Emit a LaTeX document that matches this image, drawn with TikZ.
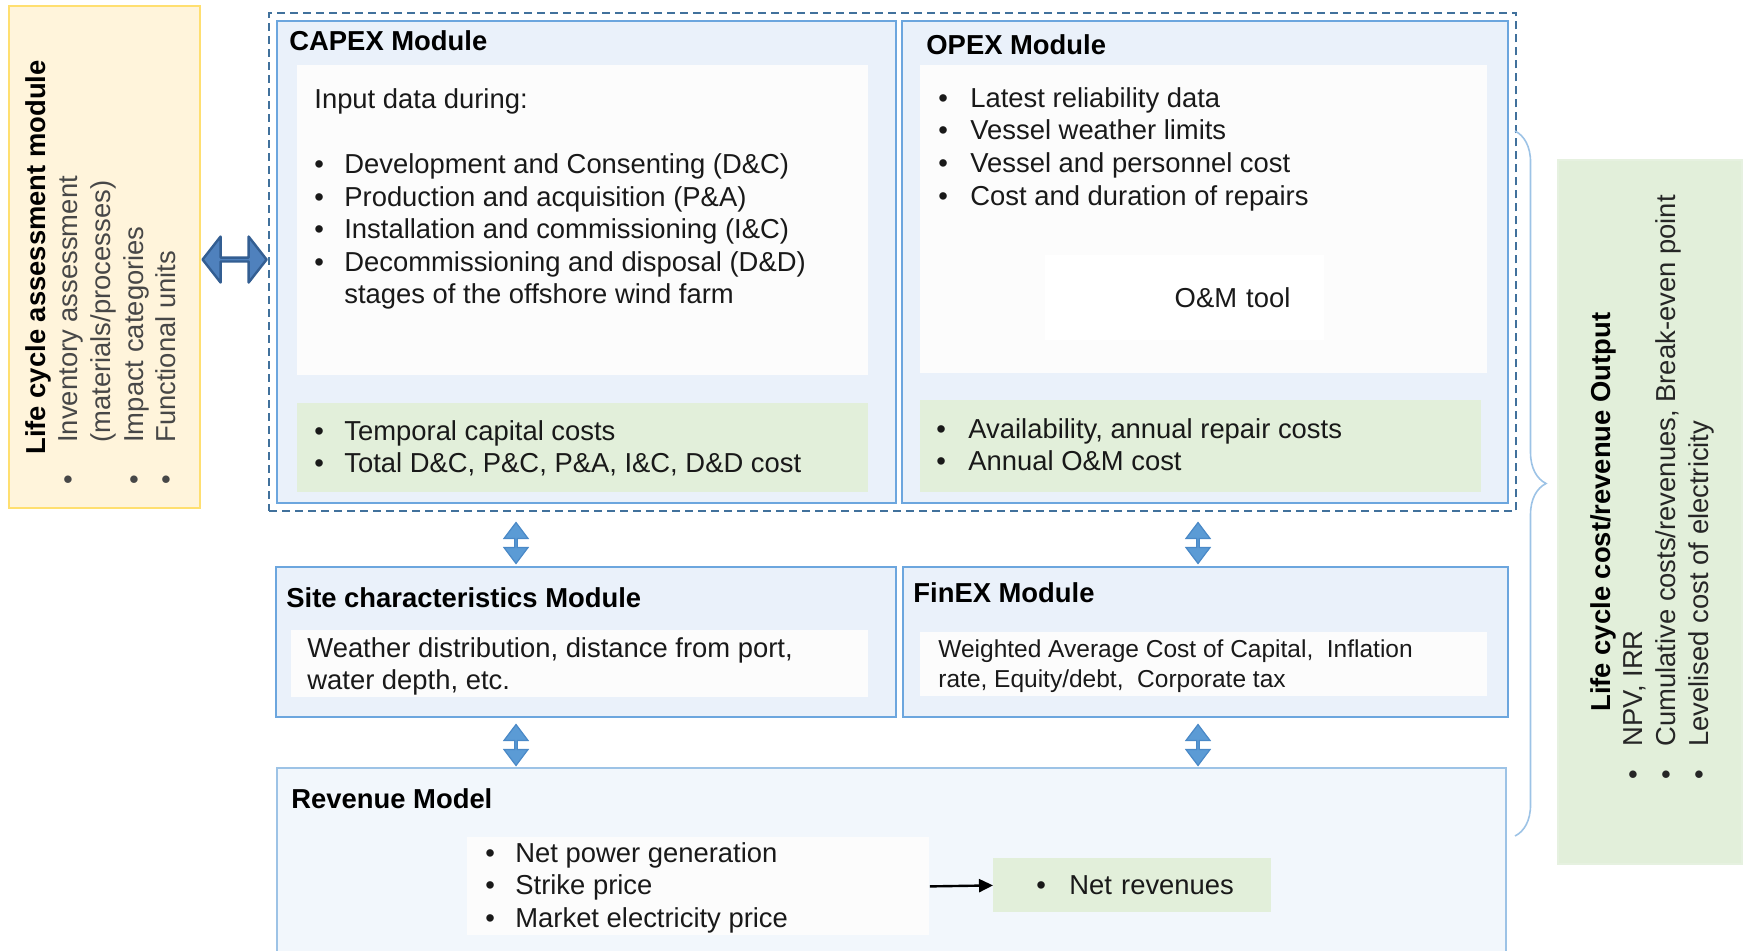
\documentclass[tikz,border=0pt]{standalone}
\usepackage{fontspec}
\setmainfont{Liberation Sans}
\usepackage{tikz}
\usetikzlibrary{positioning,fit,calc,shapes.arrows,decorations.pathreplacing,arrows.meta}

\definecolor{modfill}{HTML}{EAF1FA}
\definecolor{modborder}{HTML}{6CA6DE}
\definecolor{framecol}{HTML}{41719C}
\definecolor{whitebox}{HTML}{FCFCFC}
\definecolor{greenbox}{HTML}{E2EFDA}
\definecolor{revfill}{HTML}{F2F7FC}
\definecolor{revborder}{HTML}{9DC3E6}
\definecolor{lcafill}{HTML}{FFF4DB}
\definecolor{lcaborder}{HTML}{FFDF70}
\definecolor{arrowfill}{HTML}{5B9BD5}
\definecolor{arrowdraw}{HTML}{4A89C7}
\definecolor{bigfill}{HTML}{4F81BD}
\definecolor{bigdraw}{HTML}{335E92}

\newcommand{\bitem}[2][15pt]{\makebox[#1][l]{\textbullet}#2}

\begin{document}
\begin{tikzpicture}[
    x=0.5pt, y=-0.5pt,
    font=\fontsize{13.7}{16.3}\selectfont,
    module/.style={rectangle, draw=modborder, line width=1.1pt, fill=modfill, anchor=north west, inner sep=0pt},
    inbox/.style={rectangle, fill=whitebox, anchor=north west, inner sep=0pt},
    outbox/.style={rectangle, fill=greenbox, anchor=north west, inner sep=0pt},
    modtitle/.style={anchor=base west, inner sep=0pt, font=\fontsize{13.7}{16.3}\selectfont\bfseries},
    txt/.style={anchor=north west, inner sep=0pt, align=left, text=black!90},
    vlink/.style={double arrow, rotate=90, fill=arrowfill, draw=arrowdraw, line width=0.6pt,
        minimum height=20.5pt, minimum width=12pt, double arrow head extend=2.5pt,
        double arrow tip angle=74, inner sep=0pt},
    hlink/.style={double arrow, fill=bigfill, draw=bigdraw, line width=1.2pt, line join=round,
        minimum height=32pt, minimum width=23pt, double arrow head extend=6.5pt,
        double arrow tip angle=104, inner sep=0pt}
]
    \useasboundingbox (0,0) rectangle (1744,951);

    % Life cycle assessment
    \node[rectangle, draw=lcaborder, line width=1pt, fill=lcafill, anchor=north west,
          minimum width=95.5pt, minimum height=251pt] (lca) at (8,5) {};
    \node[txt, rotate=90, text=black!72] (lcatext) at (25,485)
        {\hspace*{15pt}\textcolor{black}{\textbf{Life cycle assessment module}}\\
         \bitem[21pt]{Inventory assessment}\\
         \hspace*{21pt}(materials/processes)\\
         \bitem[21pt]{Impact categories}\\
         \bitem[21pt]{Functional units}};

    % CAPEX
    \node[module, minimum width=309.5pt, minimum height=241pt] (capex) at (276,20) {};
    \node[modtitle] (capextitle) at (289,51) {CAPEX Module};
    \node[inbox, minimum width=285.5pt, minimum height=155pt] (capexin) at (297,65) {};
    \node[txt] (capexlist) at (314,88)
        {Input data during:\\[16.3pt]
         \bitem{Development and Consenting (D\&C)}\\
         \bitem{Production and acquisition (P\&A)}\\
         \bitem{Installation and commissioning (I\&C)}\\
         \bitem{Decommissioning and disposal (D\&D)}\\
         \hspace*{15pt}stages of the offshore wind farm};
    \node[outbox, minimum width=285.5pt, minimum height=44.5pt] (capexout) at (297,403) {};
    \node[txt] (capexres) at (314,420)
        {\bitem{Temporal capital costs}\\
         \bitem{Total D\&C, P\&C, P\&A, I\&C, D\&D cost}};

    % OPEX
    \node[module, minimum width=303pt, minimum height=241pt] (opex) at (901,20) {};
    \node[modtitle] (opextitle) at (926,55) {OPEX Module};
    \node[inbox, minimum width=283.5pt, minimum height=154pt] (opexin) at (920,65) {};
    \node[txt] (opexlist) at (938,87)
        {\bitem[16pt]{Latest reliability data}\\
         \bitem[16pt]{Vessel weather limits}\\
         \bitem[16pt]{Vessel and personnel cost}\\
         \bitem[16pt]{Cost and duration of repairs}};
    \node[rectangle, fill=white, anchor=north west, minimum width=139.5pt, minimum height=42.5pt,
          text width=105.5pt, align=right, inner xsep=17pt, inner ysep=0pt, text=black!90] (omtool) at (1045,255) {O\&M tool};
    \node[outbox, minimum width=280.5pt, minimum height=46pt] (opexout) at (920,400) {};
    \node[txt] (opexres) at (936,418)
        {\bitem[16pt]{Availability, annual repair costs}\\
         \bitem[16pt]{Annual O\&M cost}};

    \node[draw=framecol, dash pattern=on 4pt off 2.5pt, line width=0.8pt, inner sep=3.5pt, fit=(capex)(opex)] (core) {};

    % Site characteristics
    \node[module, minimum width=310pt, minimum height=75pt] (site) at (275,566) {};
    \node[modtitle] (sitetitle) at (286,607) {Site characteristics Module};
    \node[inbox, minimum width=288.5pt, minimum height=33.5pt] (sitein) at (291,630) {};
    \node[txt] (sitetext) at (307,637)
        {Weather distribution, distance from port,\\ water depth, etc.};

    % FinEX
    \node[module, minimum width=302.5pt, minimum height=75pt] (finex) at (902,566) {};
    \node[modtitle] (finextitle) at (913,602) {FinEX Module};
    \node[inbox, minimum width=283.5pt, minimum height=32pt] (finexin) at (920,632) {};
    \node[txt, font=\fontsize{12.25}{15}\selectfont] (finextext) at (938,639)
        {Weighted Average Cost of Capital,\ \ Inflation\\ rate, Equity/debt,\ \ Corporate tax};

    % Revenue model
    \node[rectangle, draw=revborder, line width=1pt, fill=revfill, anchor=north west,
          minimum width=614.5pt, minimum height=100pt] (revenue) at (276,767) {};
    \node[modtitle] (revtitle) at (291,808) {Revenue Model};
    \node[inbox, minimum width=231pt, minimum height=49pt] (revin) at (467,837) {};
    \node[txt] (revlist) at (485,842)
        {\bitem{Net power generation}\\
         \bitem{Strike price}\\
         \bitem{Market electricity price}};
    \node[rectangle, fill=greenbox, anchor=north west, minimum width=139pt, minimum height=27pt,
          text width=120pt, align=left, inner xsep=9.5pt, inner ysep=0pt, text=black!90] (netrev) at (993,858)
        {\hspace*{12pt}\bitem[16.5pt]{Net revenues}};
    \draw[-{Triangle[length=7pt,width=6.5pt]}, line width=1.2pt] (revin.east) -- (netrev.west);

    % Links between modules
    \node[hlink] (lcalink) at ($(lca.east)!0.5!(core.west)$) {};
    \node[vlink] (capexlink) at (516,543) {};
    \node[vlink] (opexlink) at (1198,543) {};
    \node[vlink] (sitelink) at (516,745) {};
    \node[vlink] (finexlink) at (1198,745) {};

    % Output
    \draw[revborder, line width=0.8pt, decorate, decoration={brace, amplitude=15.5pt}] (1515,131) -- (1515,836);
    \node[rectangle, draw=greenbox!85!white, line width=1pt, fill=greenbox, anchor=north west,
          minimum width=92pt, minimum height=352pt] (output) at (1557,159) {};
    \node[txt, rotate=90, text=black!85] (outtext) at (1590,780)
        {\hspace*{34pt}\textcolor{black}{\textbf{Life cycle cost/revenue Output}}\\
         \bitem[16.5pt]{NPV, IRR}\\
         \bitem[16.5pt]{Cumulative costs/revenues, Break-even point}\\
         \bitem[16.5pt]{Levelised cost of electricity}};
\end{tikzpicture}
\end{document}
